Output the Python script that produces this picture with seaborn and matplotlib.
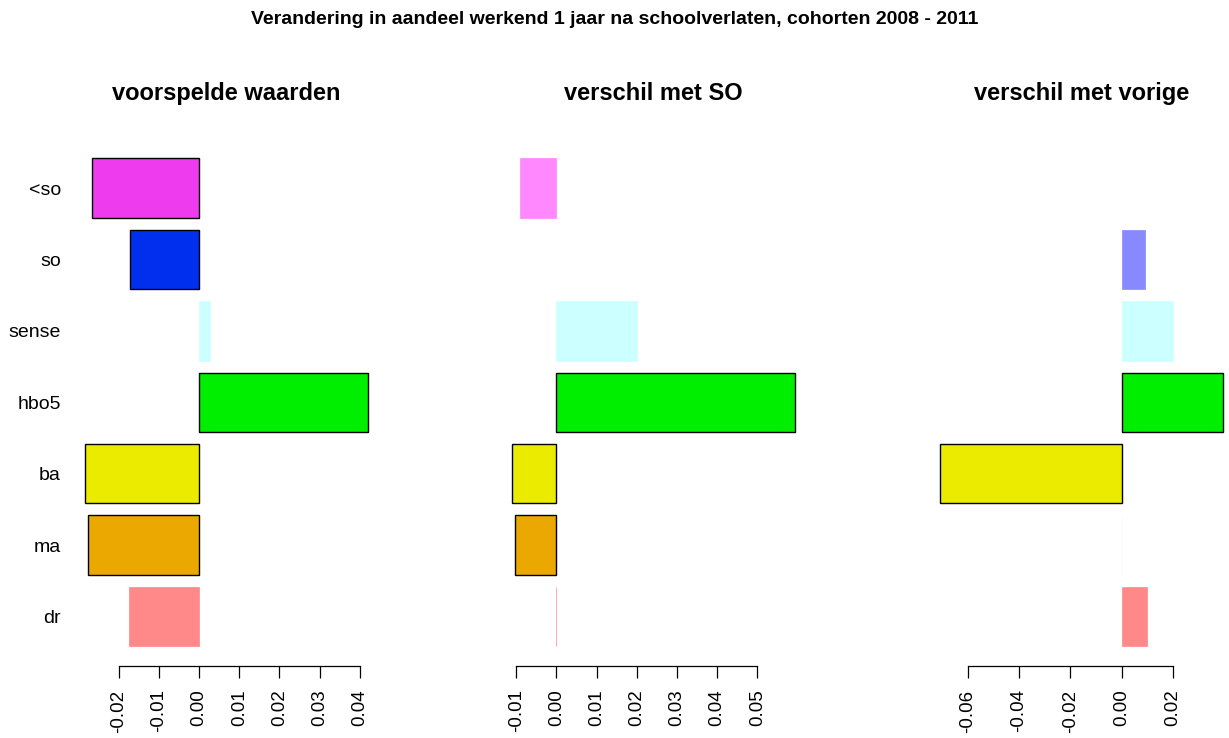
import numpy as np
import pandas as pd
import seaborn as sns
import matplotlib.pyplot as plt

# opleidingsniveaus, van boven naar beneden
categories = ['<so', 'so', 'sense', 'hbo5', 'ba', 'ma', 'dr']

voorspeld = [-0.0267, -0.0172, 0.0027, 0.0420, -0.0284, -0.0278, -0.0176]
verschil_so = [-0.0090, 0.0, 0.0200, 0.0593, -0.0110, -0.0104, -0.0001]
verschil_vorige = [0.0, 0.0092, 0.0199, 0.0394, -0.0706, 0.0001, 0.0098]

# significant -> volle kleur met rand, anders lichte kleur zonder rand
sig_voorspeld = [True, True, False, True, True, True, False]
sig_so = [False, False, False, True, True, True, False]
sig_vorige = [False, False, False, True, True, False, False]

full_colors = ['#EE3BEE', '#0030EE', '#00EEEE', '#00EE00', '#EBEB00', '#EBA800', '#EE0000']
light_colors = ['#FF88FF', '#8888FF', '#CCFFFF', '#88FF88', '#FFFF88', '#FFF6EE', '#FF8888']

ticks_voorspeld = [-0.02, -0.01, 0.0, 0.01, 0.02, 0.03, 0.04]
ticks_so = [-0.01, 0.0, 0.01, 0.02, 0.03, 0.04, 0.05]
ticks_vorige = [-0.06, -0.04, -0.02, 0.0, 0.02]

titles = ['voorspelde waarden', 'verschil met SO', 'verschil met vorige']

sns.set_style('white')
plt.rcParams['font.family'] = ['Liberation Sans', 'DejaVu Sans']
plt.rcParams['axes.unicode_minus'] = False
plt.rcParams['text.color'] = 'black'

W, H = 1229, 738
fig = plt.figure(figsize=(W / 100, H / 100), dpi=100)

panels = [
    (voorspeld, sig_voorspeld, ticks_voorspeld),
    (verschil_so, sig_so, ticks_so),
    (verschil_vorige, sig_vorige, ticks_vorige),
]
lefts = [74, 501, 929]
top_px, bottom_px, width_px = 138.8, 665.7, 305

for i, ((vals, sig, ticks), title) in enumerate(zip(panels, titles)):
    ax = fig.add_axes([lefts[i] / W, 1 - bottom_px / H, width_px / W, (bottom_px - top_px) / H])
    df = pd.DataFrame({'cat': categories, 'val': vals})
    cols = [f if s else l for f, l, s in zip(full_colors, light_colors, sig)]
    sns.barplot(data=df, x='val', y='cat', hue='cat', order=categories, hue_order=categories,
                palette=dict(zip(categories, cols)), orient='h', width=1 / 1.2,
                legend=False, saturation=1, ax=ax)
    for p in ax.patches:
        idx = int(round(p.get_y() + p.get_height() / 2))
        if sig[idx]:
            p.set_edgecolor('black')
            p.set_linewidth(1.0)
        elif vals[idx] != 0:
            # dunne rand in eigen kleur, zodat ook heel kleine waarden als lijntje zichtbaar zijn
            p.set_edgecolor(cols[idx])
            p.set_linewidth(0.5)
        else:
            p.set_edgecolor('none')
            p.set_linewidth(0)

    # R-achtige asbereik: bereik van 0 en data, 4% uitgebreid
    lo, hi = min(0, min(vals)), max(0, max(vals))
    ext = 0.04 * (hi - lo)
    ax.set_xlim(lo - ext, hi + ext)
    ax.set_ylim(6.69, -0.69)

    ax.set_xticks(ticks)
    ax.set_xticklabels([f'{t:.2f}' for t in ticks], rotation=90, fontsize=13.5, va='top')
    ax.tick_params(axis='x', direction='out', length=8.6, width=0.9, pad=8.5, colors='black', bottom=True)
    ax.set_xlabel('')
    ax.set_ylabel('')
    for side in ['top', 'right', 'left']:
        ax.spines[side].set_visible(False)
    ax.spines['bottom'].set_bounds(ticks[0], ticks[-1])
    ax.spines['bottom'].set_linewidth(0.9)
    ax.spines['bottom'].set_color('black')

    if i == 0:
        ax.set_yticks(range(len(categories)))
        ax.set_yticklabels(categories, fontsize=14)
        ax.tick_params(axis='y', length=0, pad=9.5, colors='black')
    else:
        ax.set_yticks([])

    ax.set_title(title, fontsize=17, fontweight='bold', pad=28, color='black')

fig.suptitle('Verandering in aandeel werkend 1 jaar na schoolverlaten, cohorten 2008 - 2011',
             x=0.5, y=1 - 20 / H, va='center', fontsize=14, fontweight='bold', color='black')

fig.savefig('out.png', dpi=100, facecolor='white')
